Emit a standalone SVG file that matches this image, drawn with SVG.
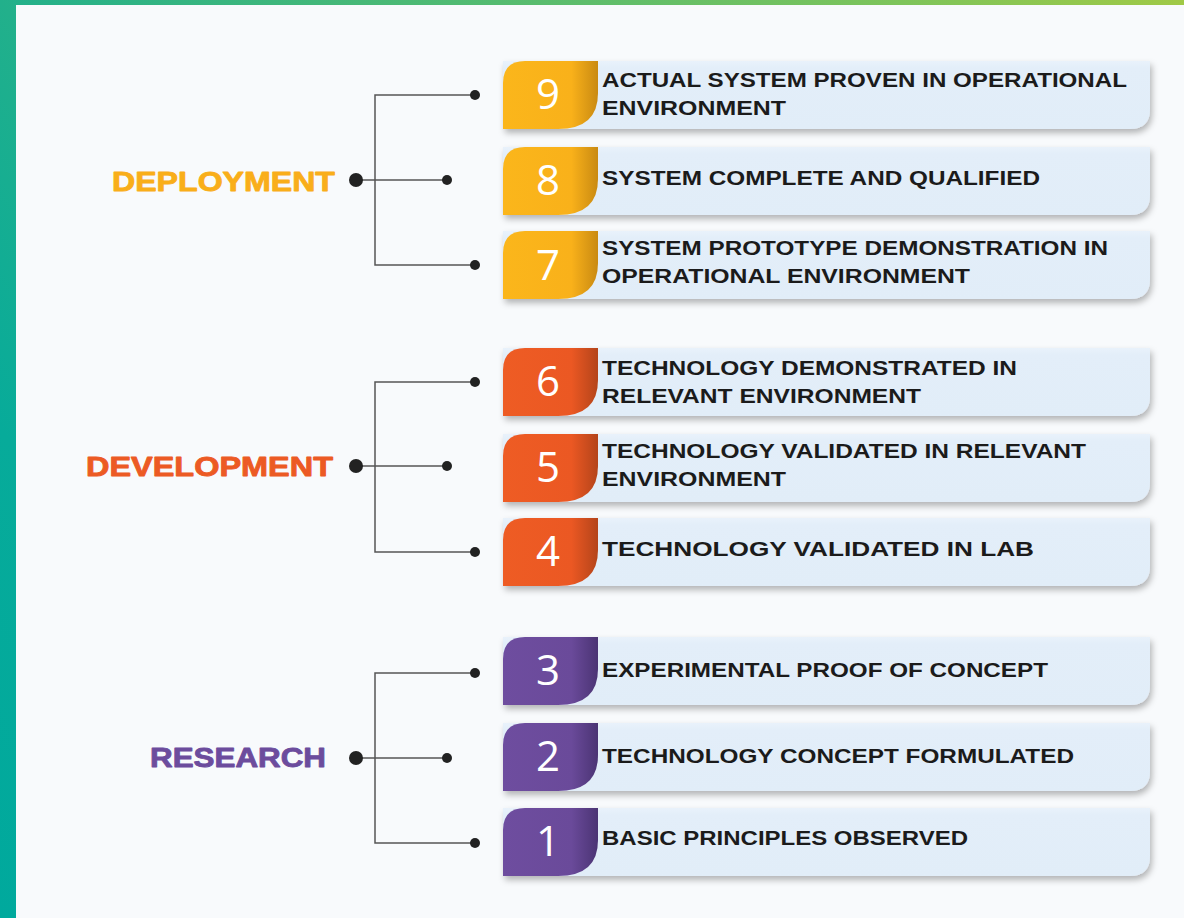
<svg xmlns="http://www.w3.org/2000/svg" xmlns:xlink="http://www.w3.org/1999/xlink" width="1184" height="918" viewBox="0 0 1184 918">
  <defs>
    <linearGradient id="frame" x1="0" y1="918" x2="1184" y2="0" gradientUnits="userSpaceOnUse">
      <stop offset="0" stop-color="#00a99d"/>
      <stop offset="0.2" stop-color="#07ab9a"/>
      <stop offset="0.375" stop-color="#22b08b"/>
      <stop offset="0.85" stop-color="#7ec45a"/>
      <stop offset="1" stop-color="#a0c946"/>
    </linearGradient>
    <linearGradient id="gYellow" x1="503" y1="0" x2="598" y2="0" gradientUnits="userSpaceOnUse">
      <stop offset="0" stop-color="#fbb61b"/>
      <stop offset="0.72" stop-color="#f9b11a"/>
      <stop offset="1" stop-color="#c98a12"/>
    </linearGradient>
    <linearGradient id="gOrange" x1="503" y1="0" x2="598" y2="0" gradientUnits="userSpaceOnUse">
      <stop offset="0" stop-color="#ee5c24"/>
      <stop offset="0.72" stop-color="#eb5823"/>
      <stop offset="1" stop-color="#b4441a"/>
    </linearGradient>
    <linearGradient id="gPurple" x1="503" y1="0" x2="598" y2="0" gradientUnits="userSpaceOnUse">
      <stop offset="0" stop-color="#6e4d9f"/>
      <stop offset="0.72" stop-color="#6a4a9a"/>
      <stop offset="1" stop-color="#4b3474"/>
    </linearGradient>
    <linearGradient id="gCard" x1="0" y1="0" x2="0" y2="68" gradientUnits="userSpaceOnUse">
      <stop offset="0" stop-color="#e9f2fb"/>
      <stop offset="0.1" stop-color="#e3eef9"/>
      <stop offset="1" stop-color="#e1edf8"/>
    </linearGradient>
    <filter id="shadow" x="-5%" y="-20%" width="115%" height="160%">
      <feDropShadow dx="2" dy="4" stdDeviation="3" flood-color="#000" flood-opacity="0.28"/>
    </filter>
    <!-- card body and number tab, drawn relative to the row top -->
    <path id="card" d="M503,0 H1150 V48 Q1150,68 1130,68 H503 Z"/>
    <path id="tab" d="M503,68 V22 Q503,0 525,0 H598 V32 Q598,68 558,68 Z"/>
  </defs>
  <style>
    .num { font-family: "Open Sans", Lato, "Liberation Sans", sans-serif; font-weight: 400; font-size: 42px; fill: #ffffff; text-anchor: middle; }
    .txt { font-family: "Liberation Sans", Arial, sans-serif; font-weight: 700; font-size: 20px; fill: #1b1b1b; }
    .phase { font-family: "Liberation Sans", Arial, sans-serif; font-weight: 700; font-size: 28px; text-anchor: end; stroke-width: 0.9px; stroke-linejoin: round; }
    .wire { fill: none; stroke: #555555; stroke-width: 1.5; }
    .dot { fill: #222222; }
    .cardfill { fill: url(#gCard); filter: url(#shadow); }
  </style>

  <!-- frame and page -->
  <rect x="0" y="0" width="1184" height="918" fill="url(#frame)"/>
  <rect x="16" y="5" width="1168" height="913" fill="#f8fafc"/>

  <!-- phase labels -->
  <g id="label-deployment"><text class="phase" x="335" y="191" fill="#f9ae1a" stroke="#f9ae1a" textLength="223" lengthAdjust="spacingAndGlyphs">DEPLOYMENT</text></g>
  <g id="label-development"><text class="phase" x="333" y="476" fill="#ec5a24" stroke="#ec5a24" textLength="247" lengthAdjust="spacingAndGlyphs">DEVELOPMENT</text></g>
  <g id="label-research"><text class="phase" x="326" y="767" fill="#6c4c9d" stroke="#6c4c9d" textLength="176" lengthAdjust="spacingAndGlyphs">RESEARCH</text></g>

  <!-- connectors -->
  <g id="connectors">
    <path class="wire" d="M475,95 H375 V265 H475 M356,180 H447"/>
    <path class="wire" d="M475,382 H375 V552 H475 M356,466 H447"/>
    <path class="wire" d="M475,673 H375 V843 H475 M356,758 H447"/>
    <circle class="dot" cx="356" cy="180" r="7"/>
    <circle class="dot" cx="475" cy="95" r="5"/>
    <circle class="dot" cx="447" cy="180" r="5"/>
    <circle class="dot" cx="475" cy="265" r="5"/>
    <circle class="dot" cx="356" cy="466" r="7"/>
    <circle class="dot" cx="475" cy="382" r="5"/>
    <circle class="dot" cx="447" cy="466" r="5"/>
    <circle class="dot" cx="475" cy="552" r="5"/>
    <circle class="dot" cx="356" cy="758" r="7"/>
    <circle class="dot" cx="475" cy="673" r="5"/>
    <circle class="dot" cx="447" cy="758" r="5"/>
    <circle class="dot" cx="475" cy="843" r="5"/>
  </g>

  <!-- level 9 -->
  <g id="level-9">
    <g transform="translate(0,61)"><use xlink:href="#card" class="cardfill"/><use xlink:href="#tab" fill="url(#gYellow)"/></g>
    <text class="num" x="548" y="109">9</text>
    <text class="txt" x="602" y="87" textLength="525" lengthAdjust="spacingAndGlyphs">ACTUAL SYSTEM PROVEN IN OPERATIONAL</text>
    <text class="txt" x="602" y="115" textLength="184" lengthAdjust="spacingAndGlyphs">ENVIRONMENT</text>
  </g>
  <!-- level 8 -->
  <g id="level-8">
    <g transform="translate(0,147)"><use xlink:href="#card" class="cardfill"/><use xlink:href="#tab" fill="url(#gYellow)"/></g>
    <text class="num" x="548" y="195">8</text>
    <text class="txt" x="602" y="185" textLength="438" lengthAdjust="spacingAndGlyphs">SYSTEM COMPLETE AND QUALIFIED</text>
  </g>
  <!-- level 7 -->
  <g id="level-7">
    <g transform="translate(0,231)"><use xlink:href="#card" class="cardfill"/><use xlink:href="#tab" fill="url(#gYellow)"/></g>
    <text class="num" x="548" y="280">7</text>
    <text class="txt" x="602" y="255" textLength="506" lengthAdjust="spacingAndGlyphs">SYSTEM PROTOTYPE DEMONSTRATION IN</text>
    <text class="txt" x="602" y="283" textLength="368" lengthAdjust="spacingAndGlyphs">OPERATIONAL ENVIRONMENT</text>
  </g>

  <!-- level 6 -->
  <g id="level-6">
    <g transform="translate(0,348)"><use xlink:href="#card" class="cardfill"/><use xlink:href="#tab" fill="url(#gOrange)"/></g>
    <text class="num" x="548" y="396">6</text>
    <text class="txt" x="602" y="375" textLength="415" lengthAdjust="spacingAndGlyphs">TECHNOLOGY DEMONSTRATED IN</text>
    <text class="txt" x="602" y="403" textLength="319" lengthAdjust="spacingAndGlyphs">RELEVANT ENVIRONMENT</text>
  </g>
  <!-- level 5 -->
  <g id="level-5">
    <g transform="translate(0,434)"><use xlink:href="#card" class="cardfill"/><use xlink:href="#tab" fill="url(#gOrange)"/></g>
    <text class="num" x="548" y="482">5</text>
    <text class="txt" x="602" y="458" textLength="484" lengthAdjust="spacingAndGlyphs">TECHNOLOGY VALIDATED IN RELEVANT</text>
    <text class="txt" x="602" y="486" textLength="184" lengthAdjust="spacingAndGlyphs">ENVIRONMENT</text>
  </g>
  <!-- level 4 -->
  <g id="level-4">
    <g transform="translate(0,518)"><use xlink:href="#card" class="cardfill"/><use xlink:href="#tab" fill="url(#gOrange)"/></g>
    <text class="num" x="548" y="566">4</text>
    <text class="txt" x="602" y="556" textLength="432" lengthAdjust="spacingAndGlyphs">TECHNOLOGY VALIDATED IN LAB</text>
  </g>

  <!-- level 3 -->
  <g id="level-3">
    <g transform="translate(0,637)"><use xlink:href="#card" class="cardfill"/><use xlink:href="#tab" fill="url(#gPurple)"/></g>
    <text class="num" x="548" y="685">3</text>
    <text class="txt" x="602" y="677" textLength="446" lengthAdjust="spacingAndGlyphs">EXPERIMENTAL PROOF OF CONCEPT</text>
  </g>
  <!-- level 2 -->
  <g id="level-2">
    <g transform="translate(0,723)"><use xlink:href="#card" class="cardfill"/><use xlink:href="#tab" fill="url(#gPurple)"/></g>
    <text class="num" x="548" y="771">2</text>
    <text class="txt" x="602" y="763" textLength="472" lengthAdjust="spacingAndGlyphs">TECHNOLOGY CONCEPT FORMULATED</text>
  </g>
  <!-- level 1 -->
  <g id="level-1">
    <g transform="translate(0,808)"><use xlink:href="#card" class="cardfill"/><use xlink:href="#tab" fill="url(#gPurple)"/></g>
    <text class="num" x="548" y="856">1</text>
    <text class="txt" x="602" y="845" textLength="366" lengthAdjust="spacingAndGlyphs">BASIC PRINCIPLES OBSERVED</text>
  </g>
</svg>
